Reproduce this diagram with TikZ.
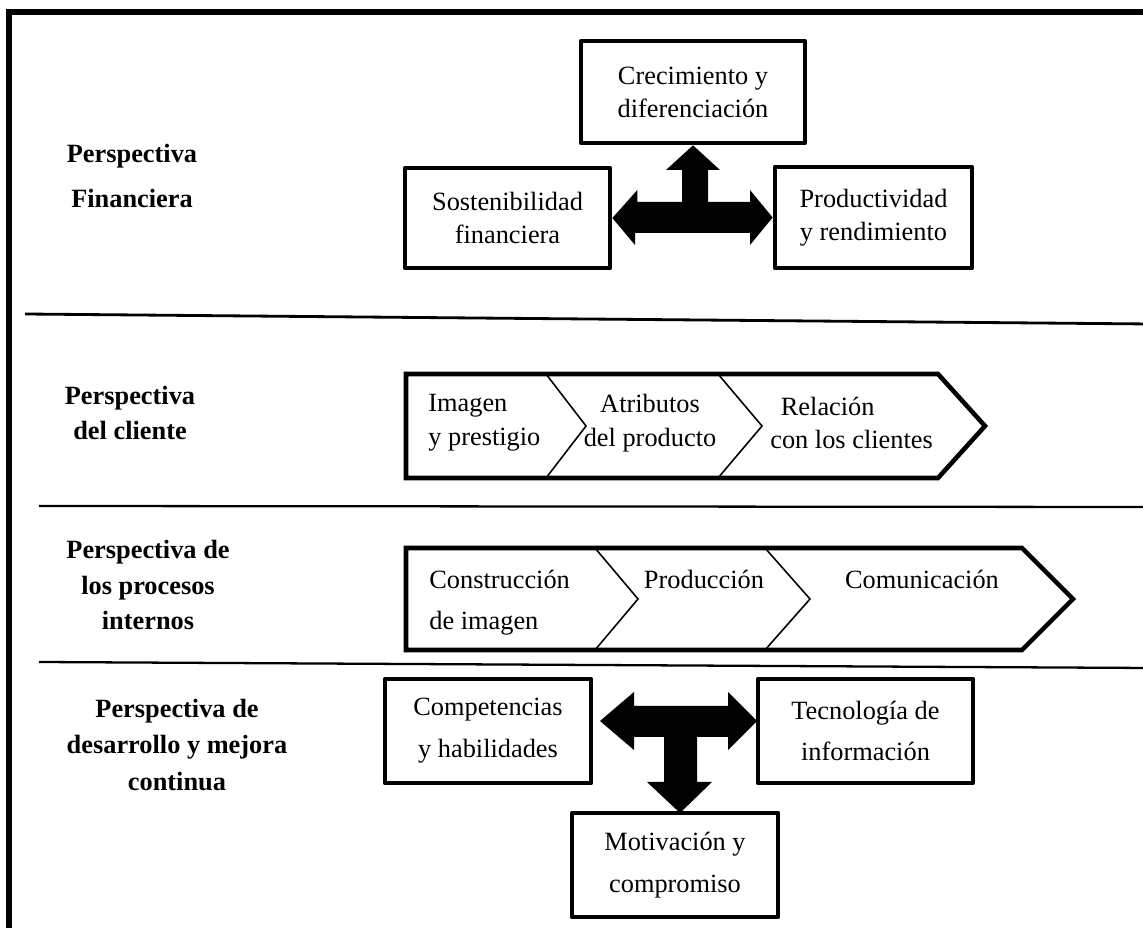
\documentclass[tikz,border=0pt]{standalone}
\usepackage{fontspec}
\setmainfont{Liberation Serif}
\usetikzlibrary{calc}
\begin{document}
\begin{tikzpicture}[x=0.02cm,y=-0.02cm,
  box/.style={draw, line width=2.7pt, line join=round, inner sep=0pt, align=center, font=\fontsize{15}{18.7}\selectfont},
  lbox/.style={box, font=\fontsize{15}{23.8}\selectfont},
  lab/.style={align=center, inner sep=0pt, font=\fontsize{15}{20}\selectfont\bfseries},
  txt/.style={inner sep=0pt, font=\fontsize{15}{19.3}\selectfont},
  divider/.style={line width=1.3pt},
  chev/.style={line width=2.6pt},
  sepline/.style={line width=0.9pt},
  blockarrow/.style={fill=black, draw=none}]
\useasboundingbox (0,0) rectangle (1143,928);

% frame
\draw[line width=3pt] (9,940) -- (9,12) -- (1150,12);

% financial perspective
\node[lab, font=\fontsize{15}{25.5}\selectfont\bfseries] (lfin) at (132,176) {Perspectiva\\Financiera};
\node[box, minimum width=4.48cm, minimum height=2.04cm] (crec) at (693,92) {Crecimiento y\\diferenciación};
\node[box, minimum width=4.1cm, minimum height=2cm] (sost) at (507.5,218) {Sostenibilidad\\financiera};
\node[box, minimum width=3.94cm, minimum height=2.02cm] (prod) at (873.5,217.5) {Productividad\\y rendimiento};
\fill[blockarrow] (sost.east) -- ++(25,-28) -- ++(0,12) -- (682,202) -- (682,170) -- (666,170)
  -- (crec.south) -- (720,170) -- (708,170) -- (708,202) -- (750,202) -- (750,190)
  -- (prod.west) -- (750,245) -- (750,233) -- (635,233) -- (635,245) -- cycle;

% dividers
\draw[line width=1.6pt] (25,314) -- (1150,324);
\draw[divider] (39,506) -- (1150,507);
\draw[divider] (39,662) -- (1150,668);

% customer perspective
\node[lab] (lcli) at (130,413) {Perspectiva\\del cliente};
\draw[chev] (406,374) -- (938,374) -- (985,426) -- (938,478) -- (406,478) -- cycle;
\draw[sepline] (546,374) -- (586,426) -- (546,478);
\draw[sepline] (718,374) -- (762,426) -- (718,478);
\node[txt, align=left, anchor=west] (imagen) at (428,423) {Imagen\\y prestigio};
\node[txt, align=center] (atrib) at (650,423) {Atributos\\del producto};
\node[txt, align=left, anchor=west] (rel) at (770,423) {\hspace*{6pt}Relación\\con los clientes};

% internal processes
\node[lab] (lpro) at (148,585) {Perspectiva de\\los procesos\\internos};
\draw[chev] (406,548) -- (1022,548) -- (1073,599) -- (1022,650) -- (406,650) -- cycle;
\draw[sepline] (595,548) -- (638,599) -- (595,650);
\draw[sepline] (765,548) -- (810,599) -- (765,650);
\node[txt, font=\fontsize{15}{23.2}\selectfont, align=left, anchor=west] (constr) at (429,603) {Construcción\\de imagen};
\node[txt, anchor=base] (produc) at (704,589) {Producción};
\node[txt, anchor=base] (comun) at (922,589) {Comunicación};

% learning and growth
\node[lab, font=\fontsize{15}{21}\selectfont\bfseries] (ldes) at (177,745) {Perspectiva de\\desarrollo y mejora\\continua};
\node[lbox, minimum width=4.12cm, minimum height=2.08cm] (comp) at (488,731) {Competencias\\y habilidades};
\node[lbox, minimum width=4.3cm, minimum height=2.08cm] (tec) at (865.5,731) {Tecnología de\\información};
\node[lbox, minimum width=4.12cm, minimum height=2.08cm] (mot) at (675,865) {Motivación y\\compromiso};
\fill[blockarrow] (600,721) -- (634,692) -- (634,706) -- (728,706) -- (728,692) -- (757,721)
  -- (728,750) -- (728,737) -- (697,737) -- (697,782) -- (712,782) -- (680,813)
  -- (647,782) -- (664,782) -- (664,737) -- (634,737) -- (634,750) -- cycle;
\end{tikzpicture}
\end{document}
